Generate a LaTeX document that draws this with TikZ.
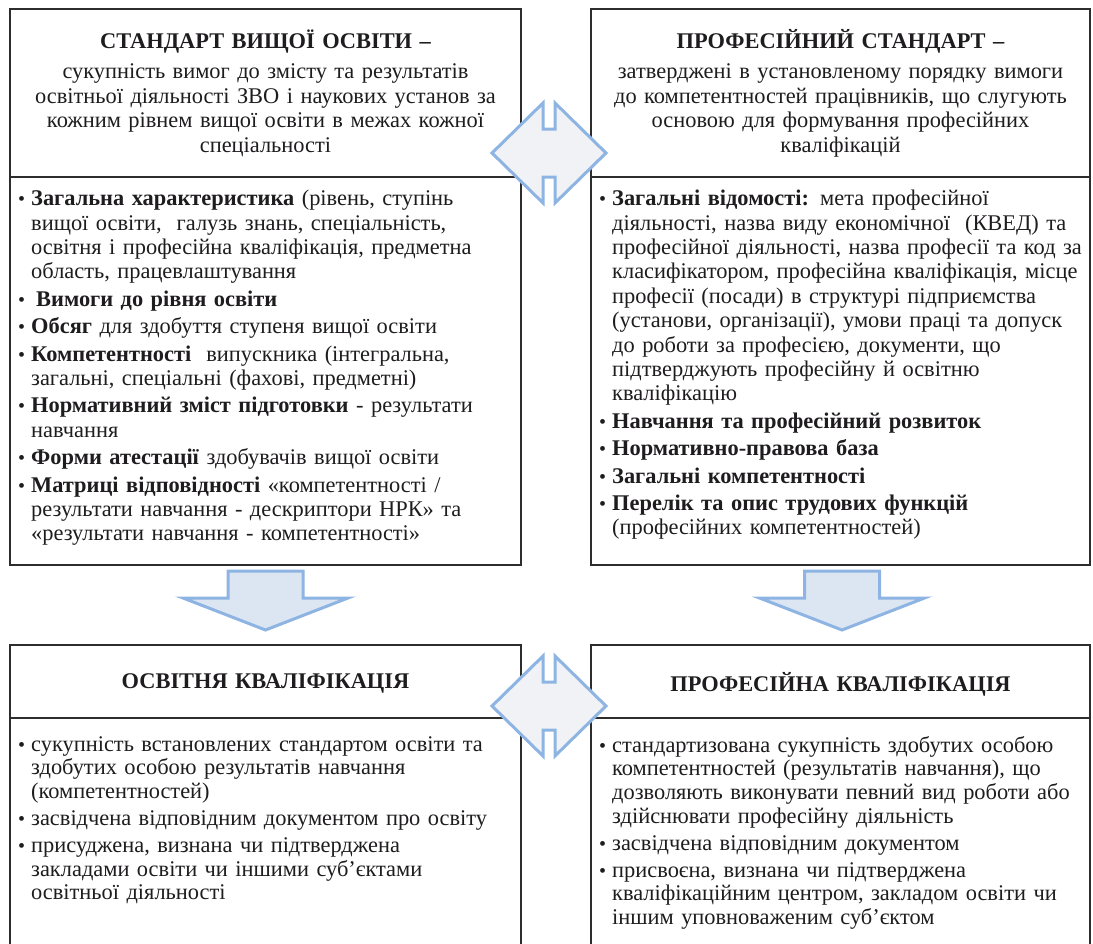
\documentclass[tikz,border=0pt]{standalone}
\usepackage{fontspec}
\setmainfont{Liberation Serif}
\usetikzlibrary{positioning,calc}

\definecolor{arrowline}{RGB}{141,180,226}
\definecolor{arrowfill}{RGB}{220,230,242}
\definecolor{swapfill}{RGB}{240,242,245}
\definecolor{boxline}{RGB}{45,45,45}
\definecolor{ink}{RGB}{30,28,30}

\newcommand{\bodyfont}{\fontsize{22.4}{24.4}\selectfont\setlength{\parskip}{3pt}}
\newcommand{\lowfont}{\fontsize{22.4}{23.6}\selectfont\setlength{\parskip}{3.5pt}}
\newcommand{\itm}{\par\noindent\hangindent=13pt\hangafter=1\makebox[13pt][l]{\fontsize{20}{20}\selectfont •}}

% block arrows, drawn round a named coordinate
\newcommand{\blockdown}[1]{%
  \draw[blockarrow, shift={(#1)}] (-37.5,-34) -- (37.5,-34) -- (37.5,-7) -- (82.5,-7) -- (0,25) -- (-82.5,-7) -- (-37.5,-7) -- cycle;}
\newcommand{\blockswap}[1]{%
  \draw[swaparrow, shift={(#1)}] (-57,0) -- (-6,-50) -- (-6,-24) -- (6,-24) -- (6,-50) -- (57,0) -- (6,50) -- (6,24) -- (-6,24) -- (-6,50) -- cycle;}

\begin{document}
\begin{tikzpicture}[x=1pt, y=-1pt, text=ink,
	box/.style={draw=boxline, line width=1.3pt, inner sep=8pt, outer sep=0pt},
	headtxt/.style={font=\fontsize{22.4}{24.5}\selectfont, align=center},
	bodytxt/.style={font=\bodyfont, align=left, text width=540pt, inner sep=0pt, anchor=north west},
	blockarrow/.style={draw=arrowline, fill=arrowfill, line width=3pt},
	swaparrow/.style={draw=arrowline, fill=swapfill, line width=3pt}]

	\useasboundingbox (0,0) rectangle (1093,943);

	% upper row
	\node[box, headtxt, text width=495pt, minimum height=168pt] (stdHead) at (265.5,93)
		{\textbf{СТАНДАРТ ВИЩОЇ ОСВІТИ –}\\[6pt]
		сукупність вимог до змісту та результатів\\
		освітньої діяльності ЗВО і наукових установ за\\
		кожним рівнем вищої освіти в межах кожної\\
		спеціальності};
	\node[box, minimum width=511pt, minimum height=388pt, below=0pt of stdHead] (stdBody) {};
	\node[bodytxt, below right=1pt and 8pt of stdBody.north west] (stdText)
		{\itm\textbf{Загальна характеристика} (рівень, ступінь\newline вищої освіти,\ \ галузь знань, спеціальність,\newline освітня і професійна кваліфікація, предметна\newline область, працевлаштування
		\itm\hspace{5pt}\textbf{Вимоги до рівня освіти}
		\itm\textbf{Обсяг} для здобуття ступеня вищої освіти
		\itm\textbf{Компетентності}\ \ випускника (інтегральна,\newline загальні, спеціальні (фахові, предметні)
		\itm\textbf{Нормативний зміст підготовки} - результати\newline навчання
		\itm\textbf{Форми атестації} здобувачів вищої освіти
		\itm\textbf{Матриці відповідності} «компетентності /\newline результати навчання - дескриптори НРК» та\newline «результати навчання - компетентності»\par};

	\node[box, headtxt, text width=483pt, minimum height=168pt] (profHead) at (840.5,93)
		{\textbf{ПРОФЕСІЙНИЙ СТАНДАРТ –}\\[6pt]
		затверджені в установленому порядку вимоги\\
		до компетентностей працівників, що слугують\\
		основою для формування професійних\\
		кваліфікацій};
	\node[box, minimum width=499pt, minimum height=388pt, below=0pt of profHead] (profBody) {};
	\node[bodytxt, below right=1pt and 8pt of profBody.north west] (profText)
		{\itm\textbf{Загальні відомості:} мета професійної\newline діяльності, назва виду економічної\ \ (КВЕД) та\newline професійної діяльності, назва професії та код за\newline класифікатором, професійна кваліфікація, місце\newline професії (посади) в структурі підприємства\newline (установи, організації), умови праці та допуск\newline до роботи за професією, документи, що\newline підтверджують професійну й освітню\newline кваліфікацію
		\itm\textbf{Навчання та професійний розвиток}
		\itm\textbf{Нормативно-правова база}
		\itm\textbf{Загальні компетентності}
		\itm\textbf{Перелік та опис трудових функцій}\newline (професійних компетентностей)\par};

	% lower row
	\node[box, headtxt, text width=495pt, minimum height=73pt, text depth=0pt] (eduHead) at (265.5,681.5)
		{\textbf{ОСВІТНЯ КВАЛІФІКАЦІЯ}};
	\node[box, minimum width=511pt, minimum height=250pt, below=0pt of eduHead] (eduBody) {};
	\node[bodytxt, font=\lowfont, below right=6pt and 8pt of eduBody.north west] (eduText)
		{\itm сукупність встановлених стандартом освіти та\newline здобутих особою результатів навчання\newline (компетентностей)
		\itm засвідчена відповідним документом про освіту
		\itm присуджена, визнана чи підтверджена\newline закладами освіти чи іншими суб’єктами\newline освітньої діяльності\par};

	\node[box, headtxt, text width=483pt, minimum height=73pt, text depth=0pt] (qualHead) at (840.5,681.5)
		{\textbf{ПРОФЕСІЙНА КВАЛІФІКАЦІЯ}};
	\node[box, minimum width=499pt, minimum height=250pt, below=0pt of qualHead] (qualBody) {};
	\node[bodytxt, font=\lowfont, below right=7pt and 8pt of qualBody.north west] (qualText)
		{\itm стандартизована сукупність здобутих особою\newline компетентностей (результатів навчання), що\newline дозволяють виконувати певний вид роботи або\newline здійснювати професійну діяльність
		\itm засвідчена відповідним документом
		\itm присвоєна, визнана чи підтверджена\newline кваліфікаційним центром, закладом освіти чи\newline іншим уповноваженим суб’єктом\par};

	% arrows between the boxes
	\coordinate (leftGap) at ($(stdBody.south)!0.5!(eduHead.north)$);
	\coordinate (rightGap) at ($(profBody.south)!0.5!(qualHead.north)+(1.5,0)$);
	\coordinate (topSwap) at (549,153);
	\coordinate (lowSwap) at (549,706);
	\blockdown{leftGap}
	\blockdown{rightGap}
	\blockswap{topSwap}
	\blockswap{lowSwap}

\end{tikzpicture}
\end{document}
